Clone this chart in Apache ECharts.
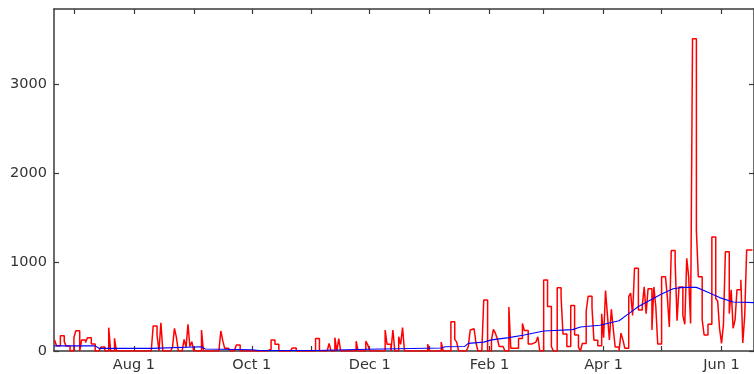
<!DOCTYPE html>
<html>
<head>
<meta charset="utf-8">
<script src="https://cdn.jsdelivr.net/npm/echarts@6/dist/echarts.min.js"></script>
<style>
  html, body { margin: 0; padding: 0; background: #fff; }
  #chart { width: 754px; height: 374px; }
</style>
</head>
<body>
<div id="chart"></div>
<script>
// day 0 = Jul 1; one value per day, first value is Jun 21
const startDay = -10;
const dailyValues = [
  124, 60, 60, 170, 170, 105, 55, 55, 0, 0,
  153, 228, 228, 0, 124, 124, 95, 150, 150, 80,
  80, 0, 0, 0, 45, 45, 0, 0, 262, 0,
  0, 142, 0, 0, 0, 0, 0, 0, 0, 0,
  0, 0, 0, 0, 0, 0, 0, 0, 0, 0,
  0, 281, 281, 180, 0, 318, 0, 0, 0, 0,
  0, 45, 255, 155, 0, 0, 0, 130, 40, 300,
  50, 105, 0, 0, 0, 0, 236, 0, 0, 0,
  0, 0, 0, 0, 0, 0, 225, 116, 30, 30,
  50, 0, 0, 0, 67, 67, 0, 0, 0, 0,
  0, 0, 0, 0, 0, 0, 0, 0, 0, 0,
  20, 20, 125, 125, 75, 75, 0, 0, 0, 0,
  20, 0, 0, 35, 35, 0, 0, 0, 0, 0,
  0, 0, 0, 0, 0, 140, 140, 0, 0, 0,
  0, 0, 85, 0, 0, 150, 0, 140, 0, 0,
  0, 0, 0, 0, 0, 0, 110, 0, 0, 0,
  0, 110, 70, 0, 0, 0, 0, 0, 0, 0,
  0, 236, 75, 75, 0, 236, 0, 0, 160, 75,
  262, 0, 0, 0, 0, 0, 0, 0, 0, 0,
  0, 0, 0, 75, 0, 0, 0, 0, 0, 0,
  100, 0, 0, 0, 0, 330, 330, 130, 100, 0,
  0, 0, 0, 0, 50, 236, 250, 250, 90, 0,
  0, 0, 573, 573, 0, 0, 125, 243, 200, 140,
  50, 50, 50, 0, 0, 495, 30, 30, 30, 30,
  140, 140, 310, 230, 230, 80, 80, 100, 100, 100,
  160, 0, 0, 798, 798, 500, 500, 50, 0, 0,
  710, 710, 610, 190, 190, 50, 50, 510, 510, 180,
  180, 40, 0, 85, 85, 450, 615, 615, 490, 120,
  120, 60, 60, 418, 150, 680, 400, 125, 470, 250,
  45, 45, 0, 200, 125, 30, 30, 610, 650, 400,
  929, 929, 460, 460, 510, 720, 420, 700, 700, 236,
  720, 500, 80, 80, 835, 835, 830, 600, 270, 1130,
  1130, 1010, 340, 720, 720, 400, 300, 1041, 835, 310,
  3510, 3510, 1350, 835, 835, 350, 180, 180, 300, 300,
  1280, 1280, 590, 560, 250, 85, 300, 1116, 1116, 420,
  688, 255, 350, 688, 688, 800, 90, 400, 1135, 1135,
  1135, 1135
];

// smoothed trend, read at selected days
const avgDays = [-10, 11, 13, 40, 41, 66, 68, 92, 96, 125, 126, 152, 153, 190, 192, 202, 204, 212,
  216, 225, 233, 243, 258, 262, 272, 282, 287, 292, 298, 304, 310, 315, 322, 328, 334, 341, 352];
const avgValues = [58, 58, 30, 30, 48, 48, 22, 14, 5, 5, 19, 19, 34, 34, 48, 50, 86, 100,
  125, 150, 180, 225, 240, 270, 290, 340, 420, 500, 570, 640, 700, 715, 715, 660, 600, 550, 543];

const monthTicks = [0, 31, 62, 92, 123, 153, 184, 215, 243, 274, 304, 335];
const labelDays = [31, 92, 153, 215, 274, 335];
const labelNames = ['Aug 1', 'Oct 1', 'Dec 1', 'Feb 1', 'Apr 1', 'Jun 1'];
const yTicks = [0, 1000, 2000, 3000];

const chart = echarts.init(document.getElementById('chart'), null, { renderer: 'canvas' });

const axisColor = '#3a3a3a';
const font = { fontFamily: 'DejaVu Sans', fontSize: 14.5, color: '#333' };
const xMin = -10.3, xMax = 351.8, yMax = 3843;

const xBase = {
  type: 'value', min: xMin, max: xMax,
  axisLine: { show: true, onZero: false, lineStyle: { color: axisColor, width: 1.5 } },
  axisTick: { show: true, inside: true, length: 5, customValues: monthTicks, lineStyle: { color: axisColor, width: 1.2 } },
  splitLine: { show: false }
};
const yBase = {
  type: 'value', min: 0, max: yMax,
  axisLine: { show: true, onZero: false, lineStyle: { color: axisColor, width: 1.5 } },
  axisTick: { show: true, inside: true, length: 5, customValues: yTicks, lineStyle: { color: axisColor, width: 1.2 } },
  splitLine: { show: false }
};

chart.setOption({
  animation: false,
  backgroundColor: '#fff',
  grid: { left: 54, top: 9, width: 702, height: 342 },
  xAxis: [
    Object.assign({}, xBase, {
      position: 'bottom',
      axisLabel: Object.assign({
        customValues: labelDays, margin: 7,
        formatter: (v) => labelNames[labelDays.indexOf(Math.round(v))] || ''
      }, font)
    }),
    Object.assign({}, xBase, { position: 'top', axisLabel: { show: false } })
  ],
  yAxis: [
    Object.assign({}, yBase, {
      position: 'left',
      axisLabel: Object.assign({ customValues: yTicks, margin: 7, formatter: (v) => String(v) }, font)
    }),
    Object.assign({}, yBase, { position: 'right', axisLabel: { show: false } })
  ],
  series: [
    {
      type: 'line',
      step: 'end',
      data: dailyValues.map((v, i) => [startDay + i, v]),
      symbol: 'none',
      lineStyle: { color: '#ff0000', width: 1.5 },
      clip: true
    },
    {
      type: 'line',
      data: avgDays.map((d, i) => [d, avgValues[i]]),
      symbol: 'none',
      lineStyle: { color: '#0000ff', width: 1.1 },
      clip: true
    }
  ]
});
</script>
</body>
</html>
